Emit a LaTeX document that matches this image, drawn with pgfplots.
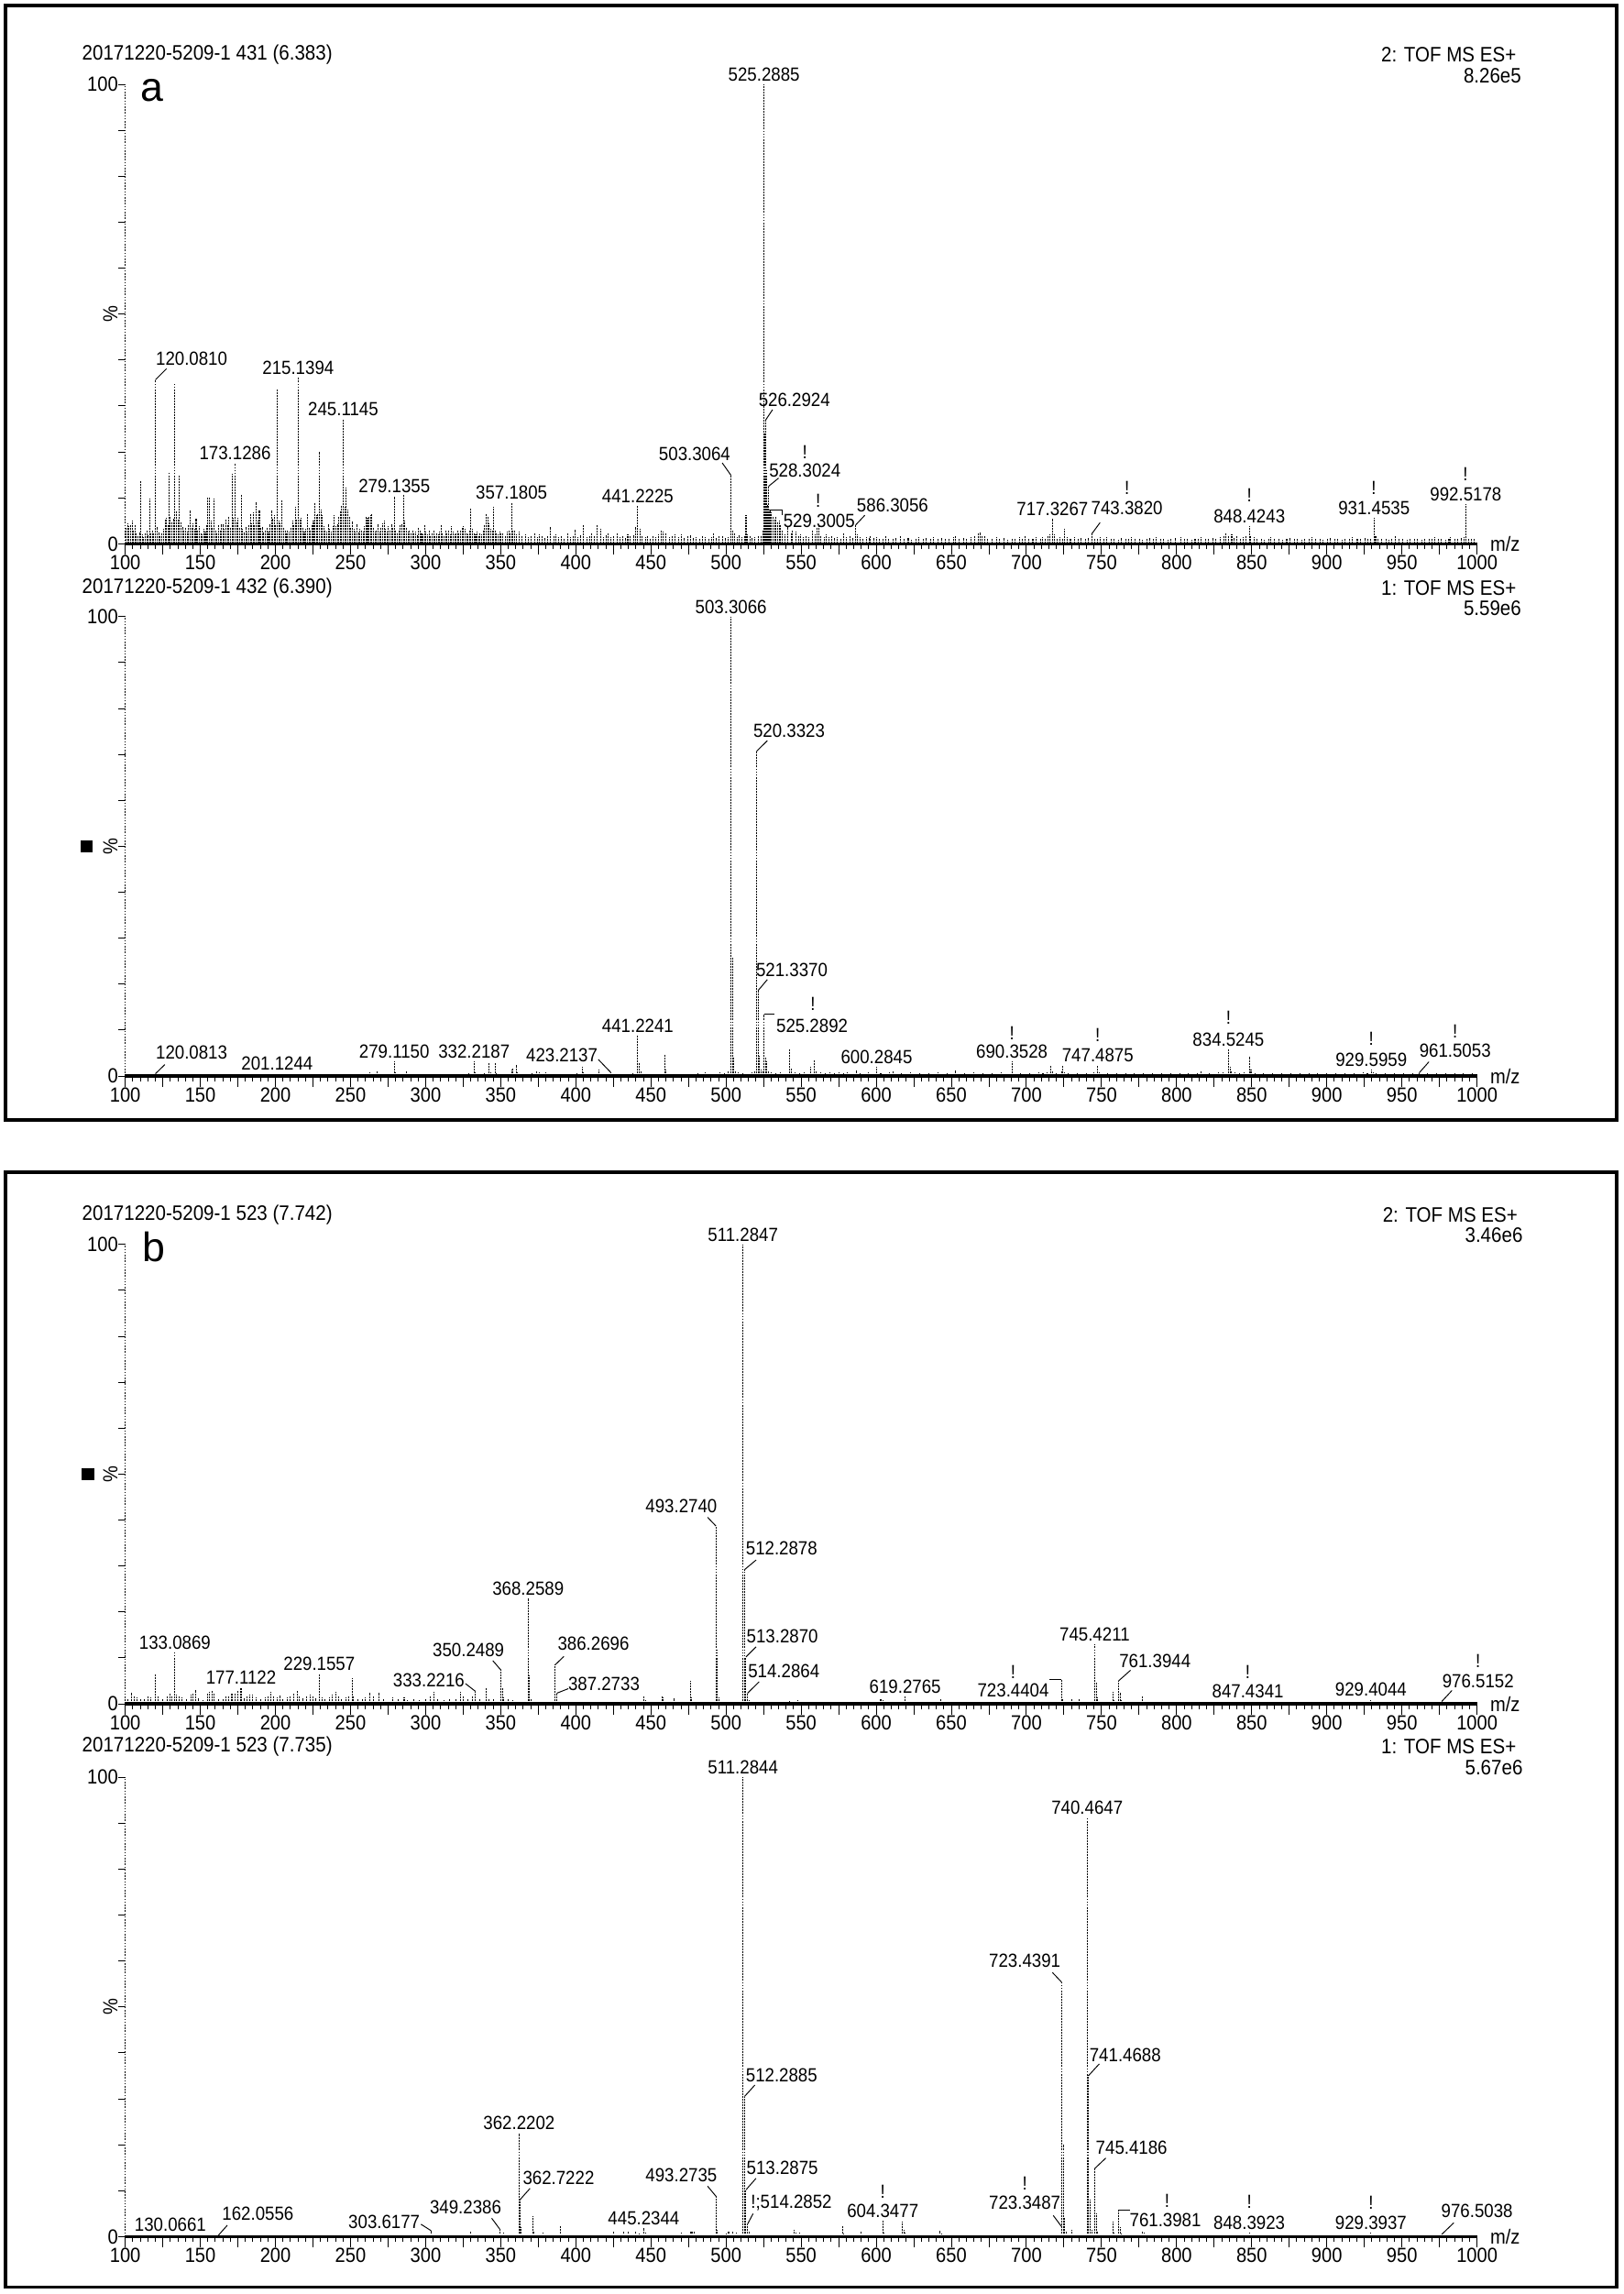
\documentclass[border=0pt]{standalone}
\usepackage{fontspec}
\setmainfont{Liberation Sans}[FakeStretch=0.9]
\newfontfamily\panelfont{Liberation Sans}
\usepackage{pgfplots}
\pgfplotsset{compat=1.18}

\tikzset{
  lbl/.style={font=\fontsize{13}{13}\selectfont, inner sep=2pt},
  ldr/.style={line width=0.6pt, black},
  stk/.style={black, line width=0.65pt, dash pattern=on 1.2pt off 0.7pt},
  big/.style={font=\fontsize{14.3}{14.3}\selectfont, inner sep=0pt},
}
\newcommand{\PK}[3]{\node[lbl,anchor=south] at (axis cs:#1,#2) {#3};}
\newcommand{\LD}[7]{\draw[ldr] (axis cs:#1,#2) -- (axis cs:#3,#4); \node[lbl] at (axis cs:#5,#6) {#7};}
\newcommand{\BANG}[2]{\node[lbl] at (axis cs:#1,#2) {!};}
\newcommand{\TXT}[3]{\node[lbl] at (axis cs:#1,#2) {#3};}

\pgfplotsset{
 ms/.style={
  scale only axis, width=924pt, height=314pt,
  xmin=100, xmax=1000, ymin=0, ymax=100,
  axis x line*=bottom, axis y line*=left,
  x axis line style={line width=2pt},
  y axis line style={line width=0.7pt, dash pattern=on 1pt off 1pt},
  tick align=outside,
  xtick={100,150,...,1000},
  xticklabels={100,150,200,250,300,350,400,450,500,550,600,650,700,750,800,850,900,950,1000},
  minor x tick num=9,
  extra x ticks={125,175,...,975},
  extra x tick labels={},
  xtick style={/pgfplots/major tick length=7.5pt, /pgfplots/minor tick length=3.8pt, line width=0.6pt, black},
  ytick={0,10,...,100},
  yticklabels={0,,,,,,,,,,100},
  ytick style={/pgfplots/major tick length=4.5pt, line width=0.6pt, black},
  ticklabel style={font=\fontsize{14}{14}\selectfont},
  yticklabel style={inner xsep=0.5pt},
  clip=false,
 }
}

\begin{document}
\begin{tikzpicture}
\useasboundingbox (0pt,0pt) rectangle (1110pt,1568pt);

% ---------------- Panel 1 ----------------
\begin{axis}[ms, at={(85.6pt,1196.3pt)}, anchor=south west]
\addplot[stk, ycomb] coordinates {
(100.8,3.5)(101.6,4.5)(102.5,3.8)(103.4,4.2)(104.7,5.0)(105.5,3.0)(106.4,4.0)(107.2,2.3)(108.5,1.8)(109.4,2.5)(110.4,13.8)(111.5,2.0)(112.4,1.5)(113.3,2.3)(114.5,2.8)(115.2,1.9)(116.1,9.8)(117.2,2.4)(118.3,3.0)(119.1,2.2)(120.08,35.7)(121.1,3.7)(122.3,2.5)(123.2,1.8)(124.4,2.4)(125.3,3.2)(126.5,5.3)(127.5,5.7)(128.3,4.2)(129.1,15.6)(130.1,6.0)(131.2,4.8)(132.0,5.5)(133.1,35.0)(134.1,7.0)(135.1,5.2)(136.1,15.1)(137.1,4.6)(138.2,3.7)(139.1,2.8)(140.2,3.4)(141.3,2.6)(142.2,4.0)(143.3,7.3)(144.2,3.5)(145.2,4.5)(146.2,3.2)(147.2,5.5)(148.1,2.8)(149.3,3.8)(150.3,2.4)(151.2,2.0)(152.4,3.3)(153.3,2.6)(154.2,4.2)(155.0,10.2)(156.0,10.2)(157.0,5.0)(158.1,3.6)(159.3,9.8)(160.3,3.0)(161.2,2.4)(162.1,4.0)(163.1,2.8)(164.1,4.3)(165.2,4.3)(166.1,3.3)(167.2,5.3)(168.2,4.0)(169.1,6.0)(170.1,3.5)(171.1,15.3)(172.1,5.6)(173.13,17.5)(174.2,4.6)(175.2,5.6)(176.2,3.4)(177.3,10.6)(178.3,3.2)(179.2,2.5)(180.3,3.7)(181.2,2.7)(182.2,4.0)(183.5,6.6)(184.3,4.5)(185.2,6.8)(186.2,4.0)(187.2,9.1)(188.3,5.0)(189.3,7.3)(190.2,3.4)(191.4,3.7)(192.3,2.5)(193.2,3.0)(194.2,3.4)(195.4,2.6)(196.2,4.3)(197.3,7.3)(198.2,5.5)(199.2,6.3)(200.2,4.2)(201.1,33.7)(202.2,5.0)(203.2,4.4)(204.2,9.6)(205.3,3.6)(206.4,3.0)(207.3,2.4)(208.2,2.9)(209.4,2.7)(210.3,3.5)(211.4,5.0)(212.3,4.0)(213.3,8.0)(214.2,5.4)(215.14,36.2)(216.2,5.2)(217.2,5.6)(218.3,3.5)(219.2,2.6)(220.3,3.2)(221.2,6.4)(222.3,3.6)(223.4,2.8)(224.3,4.0)(225.3,5.0)(226.1,9.0)(227.2,6.3)(228.1,6.5)(229.2,20.0)(230.2,7.5)(231.2,6.3)(232.3,3.8)(233.2,3.0)(234.3,2.6)(235.3,4.3)(236.2,3.2)(237.3,2.7)(238.2,3.8)(239.2,6.3)(240.3,3.9)(241.3,4.3)(242.2,6.0)(243.2,7.0)(244.2,8.3)(245.11,27.2)(246.2,8.0)(247.2,12.2)(248.2,7.5)(249.3,6.0)(250.2,3.6)(251.3,4.9)(252.3,3.3)(253.2,2.6)(254.3,4.3)(255.3,2.5)(256.4,3.2)(257.3,3.0)(258.3,2.6)(259.3,3.9)(260.3,6.0)(261.3,5.6)(262.3,5.8)(263.3,6.2)(264.3,6.4)(265.3,3.4)(266.2,2.7)(267.3,3.0)(268.3,4.3)(269.3,2.7)(270.3,3.5)(271.3,4.5)(272.3,5.0)(273.3,3.2)(274.3,2.6)(275.2,3.8)(276.3,2.8)(277.3,4.3)(278.2,3.4)(279.14,10.3)(280.2,3.0)(281.3,2.4)(282.3,3.0)(283.2,4.0)(284.3,4.3)(285.2,10.8)(286.2,5.0)(287.3,3.6)(288.2,2.6)(289.2,3.0)(290.3,2.2)(291.3,3.0)(292.2,2.2)(293.3,2.6)(294.3,1.9)(295.3,3.4)(296.3,3.0)(297.3,2.3)(298.3,2.0)(299.3,4.2)(300.3,2.6)(301.3,2.0)(302.3,2.8)(303.3,1.8)(304.3,2.2)(305.3,2.8)(306.3,1.8)(307.3,2.4)(308.3,2.0)(309.3,2.6)(310.3,4.2)(311.3,2.4)(312.3,1.8)(313.3,3.0)(314.3,2.2)(315.3,2.8)(316.3,2.0)(317.3,3.8)(318.3,2.6)(319.3,2.0)(320.3,2.4)(321.3,3.0)(322.3,2.2)(323.3,2.8)(324.3,3.4)(325.3,3.8)(326.3,3.2)(327.3,2.4)(328.3,2.0)(329.3,2.8)(330.2,7.8)(331.3,3.2)(332.3,2.4)(333.3,2.0)(334.3,2.6)(335.3,1.8)(336.3,2.4)(337.3,2.0)(338.3,3.0)(339.3,4.0)(340.3,6.6)(341.3,5.8)(342.3,4.4)(343.3,3.2)(344.3,2.8)(345.2,8.0)(346.3,3.0)(347.3,2.4)(348.3,2.0)(349.3,2.6)(350.3,2.2)
};
\addplot[stk, ycomb] coordinates {
(351.3,2.4)(353.2,1.8)(354.3,2.6)(355.3,3.0)(356.2,2.2)(357.18,9.0)(358.3,3.0)(359.3,2.8)(360.3,2.0)(362.3,2.7)(364.3,1.6)(366.3,2.0)(368.3,1.4)(370.3,1.8)(372.5,2.3)(374.3,1.5)(375.6,2.0)(377.3,1.6)(379.3,1.3)(381.3,1.8)(383.3,3.7)(385.3,1.6)(386.8,2.0)(388.3,1.4)(390.3,1.7)(392.3,1.2)(394.9,2.4)(396.3,1.5)(398.3,1.6)(399.4,3.1)(401.3,1.4)(403.3,1.9)(405.1,4.2)(407.3,1.5)(409.3,1.8)(410.2,2.4)(412.3,1.6)(414.2,4.0)(416.3,3.3)(418.3,1.5)(420.3,1.9)(421.3,2.3)(423.3,1.4)(425.3,1.7)(427.5,2.3)(429.3,1.4)(431.3,1.8)(433.3,1.3)(434.6,2.0)(436.3,1.6)(438.3,1.9)(439.6,3.7)(441.22,8.3)(442.7,3.3)(444.3,1.7)(446.3,1.4)(447.8,1.8)(449.3,1.2)(451.3,1.6)(453.3,1.4)(455.3,2.0)(457.0,3.0)(458.3,2.6)(460.0,2.3)(462.3,1.5)(464.3,1.8)(466.1,2.0)(468.3,1.4)(470.2,2.1)(472.3,1.3)(474.3,1.6)(476.3,1.9)(478.3,1.3)(480.3,1.5)(482.3,1.2)(484.4,1.8)(486.3,1.4)(488.3,1.2)(490.3,1.5)(491.5,2.3)(493.3,1.3)(495.3,1.6)(497.6,1.8)(499.3,1.3)(501.3,1.5)(503.31,14.9)(504.3,3.0)(505.7,2.3)(507.3,1.5)(508.8,1.9)(510.3,1.4)(512.3,1.8)(513.3,6.3)(514.3,2.0)(515.9,1.6)(517.3,1.3)(519.0,1.4)(521.3,1.6)(523.3,1.8)(524.3,3.0)(525.29,100)(525.8,24)(526.29,26.9)(526.8,16)(527.3,10)(527.8,8.5)(528.30,12.5)(528.8,7.5)(529.30,7.3)(530.3,6.8)(531.3,6.0)(532.3,5.3)(533.3,5.8)(534.3,4.6)(535.3,5.0)(536.3,4.0)(537.3,3.0)(539.3,2.0)(541.3,3.7)(543.3,2.2)(544.4,3.0)(546.3,2.6)(548.3,1.8)(549.5,2.0)(551.3,1.5)(553.3,1.8)(555.3,1.4)(557.6,3.0)(559.3,2.0)(560.6,3.5)(561.7,4.0)(563.3,1.6)(565.3,1.4)(566.8,2.0)(568.3,1.4)(570.3,1.7)(572.3,1.3)(574.3,1.5)(576.3,1.2)(578.0,2.3)(580.3,1.4)(582.3,1.6)(584.3,1.3)(586.31,4.1)(587.3,2.0)(589.3,1.4)(591.3,1.2)(593.3,1.5)(595.3,1.3)(596.2,1.8)(598.3,1.3)(600.3,1.5)
};
\addplot[stk, ycomb] coordinates {
(602.3,1.2)(604.5,1.0)(606.5,1.7)(608.3,1.2)(611.3,1.0)(613.3,1.3)(616.0,1.6)(618.3,1.1)(621.3,1.3)(623.3,0.9)(626.3,1.2)(628.3,1.4)(631.3,1.0)(633.3,1.3)(636.3,1.1)(638.3,1.5)(641.3,1.0)(643.3,1.3)(646.3,1.2)(648.3,1.0)(651.3,1.4)(652.9,1.7)(655.3,1.1)(658.3,1.3)(660.3,1.0)(663.3,1.5)(665.3,1.8)(667.8,2.2)(669.0,2.5)(670.3,1.6)(672.0,1.7)(674.3,1.2)(677.3,1.0)(680.0,1.4)(682.3,1.1)(685.3,1.3)(687.3,0.9)(690.3,1.2)(692.3,1.0)(695.3,1.4)(697.3,1.1)(699.0,1.6)(701.3,1.0)(704.3,1.2)(706.3,1.5)(709.3,1.1)(710.5,1.4)(712.3,1.0)(714.3,1.6)(715.4,2.0)(717.33,5.5)(718.4,2.0)(720.3,1.2)(722.3,1.4)(724.3,1.2)(725.6,3.3)(727.3,1.4)(729.3,1.0)(731.9,1.4)(734.3,1.1)(736.3,1.3)(739.3,1.0)(741.3,1.3)(743.38,2.1)(745.3,1.2)(747.3,1.0)(749.3,1.4)(751.3,1.1)(753.6,1.4)(756.3,1.0)(758.3,1.2)(761.3,0.9)(763.3,1.3)(766.3,1.0)(768.3,1.2)(770.0,1.4)(772.3,1.0)(775.3,1.2)(777.3,0.9)(780.3,1.1)(782.3,1.3)(784.3,1.0)(786.3,1.4)(789.3,1.0)(791.3,1.2)(794.3,0.9)(796.3,1.1)(799.3,1.3)(802.7,1.4)(805.3,1.0)(807.3,1.2)(810.3,0.9)(812.3,1.1)(814.3,1.0)(816.3,1.4)(819.3,1.0)(821.3,1.2)(824.3,1.3)(826.3,1.0)(829.3,1.5)(831.3,1.8)(832.6,2.3)(834.3,1.6)(836.7,2.0)(838.3,1.3)(840.3,1.6)(842.3,1.1)(844.3,1.4)(846.3,1.6)(848.42,3.9)(849.4,1.8)(851.7,1.5)(853.3,1.0)(856.3,1.2)(858.3,0.9)(861.3,1.1)(862.6,1.4)(865.3,1.0)(868.3,1.2)(870.3,0.9)(873.3,1.1)(875.3,1.3)(878.3,1.0)(880.3,1.2)(883.3,0.9)(885.3,1.1)(888.3,1.0)(889.8,1.4)(892.3,1.0)(895.3,1.2)(897.3,0.9)(900.3,1.1)(902.3,1.3)(905.3,1.0)(907.3,1.2)(910.3,0.9)(912.3,1.1)(915.3,1.0)(917.1,1.4)(920.3,1.0)(922.3,1.2)(925.3,1.3)(927.3,1.0)(929.3,1.2)(931.45,5.6)(932.5,1.8)(934.3,1.2)(936.3,1.0)(939.3,1.2)(941.3,0.9)(943.3,1.1)(945.7,1.6)(948.3,1.0)(950.3,1.2)(953.3,0.9)(955.3,1.1)(958.3,1.0)(960.3,1.2)(963.3,0.9)(965.3,1.1)(968.3,1.0)(970.3,1.2)(971.6,1.5)(974.3,1.0)(976.3,1.2)(979.3,0.9)(981.3,1.1)(982.5,1.5)(985.3,1.0)(987.3,1.2)(989.3,1.3)(991.3,1.5)(992.52,8.6)(994.3,1.2)(996.3,1.0)(998.3,1.1)
};
\PK{525.29}{100}{525.2885}
\PK{215.14}{36.2}{215.1394}
\PK{173.13}{17.5}{173.1286}
\PK{245.11}{27.2}{245.1145}
\PK{279.14}{10.3}{279.1355}
\PK{357.18}{9.0}{357.1805}
\PK{441.22}{8.3}{441.2225}
\PK{717.33}{5.5}{717.3267}
\PK{848.42}{3.9}{848.4243}
\PK{931.45}{5.6}{931.4535}
\PK{992.52}{8.6}{992.5178}
\LD{120.08}{35.7}{127.5}{38.1}{144.2}{40.2}{120.0810}
\LD{503.31}{14.9}{497.5}{17.6}{479.1}{19.5}{503.3064}
\LD{526.29}{26.9}{531}{29.2}{545.5}{31.3}{526.2924}
\LD{528.30}{12.5}{535}{14.3}{552.5}{16.0}{528.3024}
\BANG{552.5}{19.9}
\draw[ldr] (axis cs:529.3,7.3) -- (axis cs:537.3,7.3) -- (axis cs:537.3,6.3);
\TXT{562}{4.9}{529.3005}
\BANG{561.3}{9.3}
\LD{586.31}{4.1}{592.4}{6.2}{610.9}{8.4}{586.3056}
\LD{743.38}{2.1}{749}{4.6}{766.9}{7.7}{743.3820}
\BANG{766.9}{12.2}
\BANG{848.42}{10.5}
\BANG{931.3}{12.2}
\BANG{992.2}{15.1}
\node[rotate=90, font=\fontsize{14}{14}\selectfont] at (axis description cs:-0.011,0.5) {\%};
\node[anchor=west, xshift=5.5pt, font=\fontsize{14}{14}\selectfont] at (axis description cs:1,0) {m/z};
\end{axis}

% ---------------- Panel 2 ----------------
\begin{axis}[ms, at={(85.6pt,832.5pt)}, anchor=south west]
\addplot[stk, ycomb] coordinates {
(102,0.3)(106,0.4)(110,0.3)(114,0.4)(118,0.3)(120.08,0.5)(124,0.3)(128,0.4)(132,0.3)(136,0.4)(140,0.3)(144,0.3)(148,0.4)(152,0.3)(156,0.3)(160,0.4)(164,0.3)(168,0.3)(172,0.4)(176,0.3)(180,0.3)(184,0.4)(188,0.3)(192,0.3)(196,0.4)(201.12,0.6)(204,0.3)(208,0.3)(212,0.4)(216,0.3)(220,0.3)(224,0.4)(228,0.3)(232,0.3)(236,0.4)(240,0.3)(244,0.4)(248,0.3)(252,0.4)(256,0.5)(260,0.4)(263,0.8)(266,0.6)(268,1.0)(272,0.5)(275,0.6)(279.12,3.2)(280.1,0.8)(283,0.5)(287.1,1.2)(290,0.5)(294,0.4)(298,0.5)(302,0.4)(306,0.5)(310,0.4)(314,0.5)(318,0.6)(322,0.5)(326,0.6)(329,0.7)(332.22,3.2)(333.2,0.8)(336,0.5)(339,0.7)(342.3,2.8)(343.3,0.8)(346.3,3.0)(347.3,0.7)(350,0.5)(354,0.6)(357.2,1.5)(358.2,1.8)(360.3,2.5)(361.3,0.8)(364,0.6)(368,0.5)(371,0.7)(374,1.0)(376,0.8)(378,0.6)(380,0.8)(383,0.6)(386,0.5)(389,0.6)(392,0.5)(395,0.6)(398,0.5)(401,0.7)(404.2,2.0)(405.2,0.8)(408,0.6)(411,0.6)(415.2,1.5)(416.2,0.6)(419,0.5)(423.21,0.8)(426,0.6)(429,0.5)(432,0.6)(435,0.5)(438,0.7)(441.22,8.8)(442.2,3.0)(443.2,1.2)(446,0.6)(449,0.5)(452,0.6)(455,0.5)(459.2,4.7)(460.2,1.5)(463,0.6)(466,0.5)(469,0.6)(472,0.5)(475,0.6)(478,0.5)(481,0.7)(484,0.6)(486,0.8)(489,0.6)(492,0.5)(494,0.6)(496,0.8)(499,0.7)(501.3,1.0)(503.31,100)(504.31,25.9)(505.31,4.0)(506.3,1.0)(508,0.8)(511,0.7)(514,0.6)(517,0.8)(519.3,1.2)(520.33,70.7)(521.34,18.6)(522.34,4.5)(523.3,1.5)(524.3,1.0)(525.29,13.4)(526.29,4.0)(527.3,3.2)(528.3,1.2)(530,0.8)(533,0.7)(536,0.8)(539,0.6)(542.3,5.9)(543.3,1.8)(546,0.8)(549,0.7)(552,0.8)(556.3,2.0)(559,3.4)(560,1.2)(563,0.8)(566,0.7)(569,0.9)(572,0.7)(575,0.8)(578,0.7)(581,0.8)(584,0.6)(586.8,1.3)(589,0.7)(592,0.6)(595,0.8)(598,0.6)(600.28,2.0)(603,0.7)(606,0.6)(609,0.8)(611,1.0)(614,0.6)(617,0.7)(620,0.6)(623,0.8)(626,0.6)(629,0.7)(632,0.6)(635,0.7)(638,0.6)(641,0.8)(644,0.6)(647,0.7)(650,0.6)(653,1.3)(656,0.6)(659,0.7)(662,0.6)(665,0.8)(668,0.6)(671,0.7)(674,0.6)(677,0.7)(680,0.6)(683,0.8)(686,0.6)(690.35,3.2)(693,0.6)(696,0.7)(699,0.6)(702,0.7)(705,0.6)(708,0.8)(711,0.7)(714,0.8)(716.3,2.2)(717.3,1.0)(720,0.7)(723.3,1.2)(724.3,2.2)(725.3,0.9)(728,0.7)(731,0.6)(734,0.7)(737,0.6)(740,0.7)(743,0.6)(745,0.8)(747.49,2.3)(748.5,0.8)(751,0.6)(754,0.7)(757,0.6)(760,0.7)(763,0.6)(766,0.7)(769,0.6)(772,0.7)(775,0.6)(778,0.7)(781,0.6)(784,0.7)(787,0.6)(790,0.7)(793,0.6)(796,0.7)(799,0.6)(802,0.7)(805,0.6)(808,0.7)(811,0.6)(814,0.7)(816,1.0)(819,0.6)(822,0.7)(825,0.6)(828,0.8)(831,0.9)(834.52,5.8)(835.5,2.0)(836.5,1.0)(839,0.8)(842,0.7)(845,0.8)(848.5,4.3)(849.5,1.4)(852,0.7)(855,0.6)(858,0.7)(861,0.6)(864,0.7)(867,0.6)(870,0.7)(873,0.6)(876,0.7)(879,0.6)(882,0.7)(885,0.6)(888,0.7)(891,0.6)(894,0.7)(897,0.6)(900,0.7)(903,0.6)(906,0.7)(909,0.6)(912,0.7)(915,0.6)(918,0.7)(921,0.6)(924,0.8)(927,0.7)(929.6,1.4)(931,0.9)(933,0.7)(936,0.6)(939,0.7)(942,0.6)(945,0.7)(948,0.6)(951,0.7)(954,0.6)(957,0.7)(961.51,0.7)(964,0.6)(967,0.7)(970,0.6)(973,0.7)(976,0.6)(979,0.7)(982,0.6)(985,0.7)(988,0.6)(991,0.7)(994,0.6)(997,0.7)
};
\PK{503.31}{100}{503.3066}
\PK{441.22}{8.8}{441.2241}
\PK{332.22}{3.2}{332.2187}
\PK{279.12}{3.2}{279.1150}
\PK{201.12}{0.6}{201.1244}
\PK{600.28}{2.0}{600.2845}
\PK{690.35}{3.2}{690.3528} \BANG{690.35}{9.4}
\PK{747.49}{2.3}{747.4875} \BANG{747.49}{8.9}
\PK{834.52}{5.8}{834.5245} \BANG{834.52}{12.7}
\PK{929.6}{1.4}{929.5959} \BANG{929.6}{8.2}
\LD{520.33}{70.7}{527.5}{73}{542}{75.2}{520.3323}
\LD{521.34}{18.6}{527.5}{21}{543.8}{23}{521.3370}
\draw[ldr] (axis cs:525.29,13.4) -- (axis cs:532.5,13.4);
\TXT{557.3}{11}{525.2892} \BANG{557.8}{15.8}
\LD{423.21}{0.8}{415}{3.6}{390.7}{4.5}{423.2137}
\LD{120.08}{0.5}{126.4}{2.5}{144.2}{5.2}{120.0813}
\LD{961.51}{0.7}{968}{3.1}{985.4}{5.6}{961.5053} \BANG{985.4}{9.8}
\node[rotate=90, font=\fontsize{14}{14}\selectfont] at (axis description cs:-0.011,0.5) {\%};
\fill (axis description cs:-0.0285,0.5) ++(-4.15pt,-4.15pt) rectangle ++(8.3pt,8.3pt);
\node[anchor=west, xshift=5.5pt, font=\fontsize{14}{14}\selectfont] at (axis description cs:1,0) {m/z};
\end{axis}

% ---------------- Panel 3 ----------------
\begin{axis}[ms, at={(85.6pt,403.4pt)}, anchor=south west]
\addplot[stk, ycomb] coordinates {
(102,1.2)(104,2.5)(106,1.8)(108,1.5)(110,1.2)(113,1.0)(115,1.6)(117,1.4)(120.1,6.3)(122,1.8)(125,1.0)(128,1.6)(130,2.2)(131,1.6)(133.09,11.2)(134,2.0)(136,1.8)(138,1.5)(141,1.2)(144,2.0)(145,2.3)(146.7,3.1)(149,1.3)(152,0.8)(155,2.2)(156,2.6)(157.6,2.9)(159,2.2)(162,1.2)(165,1.0)(167,1.6)(169,1.8)(171,2.4)(173,2.2)(175,2.8)(177.11,3.6)(179,1.3)(181,1.8)(183,2.0)(185,2.0)(187,1.5)(190,1.0)(193,1.4)(195,1.6)(197,2.6)(199,1.7)(201,1.5)(203,1.9)(205,1.2)(208,1.5)(210,1.8)(212,2.2)(214.8,3.0)(216,1.8)(218,1.3)(221,1.6)(223,2.0)(225,1.6)(227,1.3)(229.16,6.6)(231,1.4)(233,1.1)(236,1.5)(238,2.0)(240,2.6)(242,1.6)(244,1.2)(247,1.4)(249,1.8)(251.1,5.5)(252,1.8)(255,1.2)(258,1.0)(260,1.5)(263,2.5)(265,1.6)(269,2.5)(272,1.0)(278,1.4)(282,1.0)(285.7,1.5)(288,0.8)(292,1.0)(296,0.8)(300,1.0)(303,1.6)(305.3,2.6)(308,1.2)(312,0.8)(316,1.0)(320,1.2)(323.3,2.7)(325,1.6)(328,1.0)(331,1.6)(333.22,2.7)(336,1.0)(340.2,3.5)(342,1.2)(345,1.0)(350.25,7.3)(351.2,3.5)(352,1.5)(355,1.0)(357.9,0.8)(362,0.5)(368.26,23.0)(369.26,6.1)(370,1.0)(376,0.5)(386.27,8.5)(387.27,2.3)(393,0.5)(405,0.5)(418,0.5)(430,0.6)(434,0.6)(445,1.7)(446.4,0.8)(457.3,1.8)(458,1.5)(465.5,1.3)(476.2,5.0)(477.2,1.5)(493.27,38.7)(494.28,12.1)(495.3,1.5)(505,0.6)(508,0.5)(511.28,100)(512.29,29.2)(513.29,10.2)(514.29,2.3)(515.3,0.8)(523,0.5)(530,0.6)(542,0.7)(548,0.8)
(552,0.4)(556,0.3)(560,0.5)(564,0.3)(568,0.4)(572,0.3)(576,0.4)(580,0.3)(584,0.4)(588,0.6)(592,0.3)(596,0.4)(600,0.3)(603,1.0)(604.3,0.8)(608,0.4)(612,0.3)(616,0.4)(619.28,1.6)(620.3,0.5)(624,0.3)(628,0.4)(632,0.3)(636,0.4)(640,0.3)(643,1.0)(644,0.5)(648,0.3)(652,0.4)(656,0.3)(660,0.4)(664,0.3)(668,0.3)(672,0.4)(676,0.3)(680,0.3)(684,0.4)(688,0.3)(692,0.3)(696,0.4)(700,0.3)(704,0.4)(708,0.3)(712,0.3)(716,0.4)(720,0.3)(723.44,5.2)(724.4,1.2)(728,0.4)(730,1.0)(735,1.0)(738,0.4)(742,0.4)(745.42,12.9)(746.42,4.8)(747.4,1.5)(750,0.4)(754,0.4)(757.4,2.7)(758.4,0.8)(761.39,5.0)(762.4,2.5)(763.4,0.8)(766,0.4)(770,0.3)(774,0.4)(777.4,1.7)(778.4,0.6)(782,0.3)(786,0.6)(790,0.3)(796,0.3)(802,0.3)(808,0.3)(814,0.3)(820,0.3)(826,0.3)(832,0.3)(838,0.3)(844,0.3)(847.43,0.5)(852,0.3)(858,0.3)(864,0.3)(870,0.3)(876,0.3)(882,0.3)(888,0.3)(894,0.3)(900,0.3)(906,0.3)(912,0.3)(918,0.3)(924,0.3)(929.40,0.9)(934,0.3)(940,0.3)(946,0.3)(952,0.3)(958,0.3)(964,0.3)(970,0.3)(976.52,0.5)(982,0.3)(988,0.3)(994,0.3)
};
\PK{511.28}{100}{511.2847}
\PK{368.26}{23.0}{368.2589}
\PK{133.09}{11.2}{133.0869}
\PK{177.11}{3.6}{177.1122}
\PK{229.16}{6.6}{229.1557}
\PK{745.42}{12.9}{745.4211}
\PK{619.28}{1.6}{619.2765}
\PK{929.40}{0.9}{929.4044}
\PK{847.43}{0.5}{847.4341} \BANG{847.43}{6.9}
\LD{493.27}{38.7}{487.7}{40.6}{470.2}{43}{493.2740}
\LD{512.29}{29.2}{520}{31.3}{537}{33.9}{512.2878}
\LD{513.29}{10.2}{520}{12.4}{537.5}{14.7}{513.2870}
\LD{514.29}{2.3}{522}{4.8}{538.5}{7.1}{514.2864}
\LD{350.25}{7.3}{344.7}{9.4}{328.5}{11.8}{350.2489}
\LD{386.27}{8.5}{392}{10.3}{411.7}{13.1}{386.2696}
\LD{387.27}{2.3}{395}{3.3}{418.7}{4.4}{387.2733}
\LD{333.22}{2.7}{326.5}{4.4}{302.1}{5.2}{333.2216}
\LD{761.39}{5.0}{769.3}{7.3}{785.6}{9.4}{761.3944}
\draw[ldr] (axis cs:715.5,5.2) -- (axis cs:723.44,5.2);
\TXT{691.2}{3}{723.4404} \BANG{691.2}{6.9}
\LD{976.52}{0.5}{983.3}{2.9}{1000.7}{5}{976.5152} \BANG{1000.7}{9.4}
\node[rotate=90, font=\fontsize{14}{14}\selectfont] at (axis description cs:-0.011,0.5) {\%};
\fill (axis description cs:-0.0275,0.5) ++(-4.15pt,-4.15pt) rectangle ++(8.3pt,8.3pt);
\node[anchor=west, xshift=5.5pt, font=\fontsize{14}{14}\selectfont] at (axis description cs:1,0) {m/z};
\end{axis}

% ---------------- Panel 4 ----------------
\begin{axis}[ms, at={(85.6pt,39.2pt)}, anchor=south west]
\addplot[stk, ycomb] coordinates {
(102,0.3)(106,0.4)(110,0.3)(114,0.3)(118,0.4)(122,0.3)(126,0.3)(130.07,0.4)(134,0.3)(138,0.4)(142,0.3)(146,0.3)(150,0.4)(154,0.3)(158,0.3)(162.06,0.3)(166,0.3)(170,0.4)(174,0.3)(178,0.3)(182,0.4)(186,0.3)(190,0.3)(194,0.4)(198,0.3)(202,0.3)(206,0.4)(210,0.3)(214,0.3)(218,0.4)(222,0.3)(226,0.3)(230,0.4)(234,0.3)(238,0.3)(242,0.4)(246,0.3)(250,0.3)(254,0.4)(258,0.3)(262,0.3)(266,0.4)(270,0.3)(274,0.3)(278,0.4)(282,0.3)(286,0.4)(290,0.3)(294,0.4)(298,0.3)(303.62,1.3)(306,0.4)(310,0.3)(314,0.4)(318,0.3)(322,0.4)(326,0.5)(330.2,1.1)(334,0.4)(338,0.5)(342,0.4)(346,0.5)(349.24,1.7)(350.2,0.6)(352,0.8)(356,0.5)(359,0.6)(362.22,22.5)(362.72,8.0)(363.22,2.0)(364,0.6)(367,0.5)(371.3,4.4)(372.3,1.0)(375,0.5)(378,0.8)(381,0.5)(384,0.6)(386,0.5)(389.9,2.2)(391,0.6)(394,0.5)(398,0.4)(402,0.5)(406,0.4)(410,0.5)(414,0.4)(418,0.5)(422,0.6)(425,1.0)(428,0.6)(431.7,1.2)(435,1.0)(438,0.6)(440,1.2)(442,0.7)(445.23,1.9)(446.2,0.8)(449,0.5)(452,0.6)(456,0.5)(460,0.6)(464,0.5)(467,0.6)(470,0.8)(473,0.5)(476.3,1.1)(477.3,1.0)(479,1.0)(482,0.5)(486,0.6)(490,0.5)(493.27,8.8)(494.28,1.5)(497,0.6)(500,0.7)(501.7,1.1)(504.7,1.1)(507,0.8)(509,0.6)(511.28,100)(512.29,30.5)(513.29,10.2)(514.29,2.7)(515.3,1.0)(518,0.6)(522,0.5)(526,0.6)(530,0.5)(533,0.6)(537,0.5)(541,0.6)(545.3,1.5)(546.3,0.8)(549,0.8)(553,0.5)(557,0.6)(561,0.5)(565,0.6)(569,0.5)(573,0.6)(577.5,2.2)(578.5,0.7)(582,0.5)(586,0.6)(590,1.1)(594,0.5)(598,0.6)(601,0.5)(604.35,3.4)(605.3,0.8)(608,0.5)(612,0.6)(614,0.5)(617.4,3.3)(618.4,1.5)(619.4,0.8)(622,0.5)(626,0.6)(630,0.5)(634,0.6)(638,0.5)(642.4,1.3)(643.4,0.7)(646,0.5)(650,0.6)(654,0.5)(658,0.6)(662,0.5)(666,0.6)(670,0.5)(674,0.6)(678,0.5)(682,0.6)(686,0.5)(690,0.6)(694,0.5)(698,0.6)(702,0.5)(706,0.6)(710,0.5)(714,0.6)(718,0.5)(721,0.6)(723.44,55.4)(724.44,20.0)(725.44,4.0)(726.4,1.0)(730.4,1.5)(733,0.6)(736,0.5)(738,0.6)(740.46,91.2)(741.47,35.1)(742.47,8.0)(743.5,1.5)(745.42,14.8)(746.42,5.0)(747.4,1.2)(750,0.6)(754,0.5)(757.4,3.2)(758.4,0.8)(761.4,5.8)(762.4,2.0)(763.4,0.7)(766,0.5)(770,0.6)(774,0.5)(777.4,1.1)(778.4,0.8)(782,0.5)(786,0.6)(790,0.5)(794,0.5)(798,0.4)(802,0.5)(806,0.4)(810,0.5)(814,0.4)(818,0.5)(822,0.4)(826,0.5)(830,0.4)(834,0.5)(838,0.4)(842,0.5)(846,0.4)(848.39,0.8)(852,0.4)(856,0.5)(860,0.4)(864,0.4)(868,0.5)(872,0.4)(876,0.4)(880,0.5)(884,0.4)(888,0.4)(892,0.5)(896,0.4)(900,0.4)(904,0.5)(908,0.4)(912,0.4)(916,0.5)(920,0.4)(924,0.4)(929.39,0.8)(932,0.4)(936,0.4)(940,0.5)(944,0.4)(948,0.4)(952,0.5)(956,0.4)(960,0.4)(964,0.5)(968,0.4)(972,0.4)(976.50,0.5)(980,0.4)(984,0.4)(988,0.5)(992,0.4)(996,0.4)
};
\PK{511.28}{100}{511.2844}
\PK{362.22}{22.5}{362.2202}
\PK{130.07}{0.4}{130.0661}
\PK{445.23}{1.9}{445.2344}
\PK{740.46}{91.2}{740.4647}
\PK{604.35}{3.4}{604.3477} \BANG{604.35}{9.8}
\PK{848.39}{0.8}{848.3923} \BANG{848.39}{7.5}
\PK{929.39}{0.8}{929.3937} \BANG{929.39}{7.3}
\LD{512.29}{30.5}{519.2}{33}{537}{35.1}{512.2885}
\LD{513.29}{10.2}{520}{12.7}{537.5}{15}{513.2875}
\LD{514.29}{2.7}{518}{5.0}{543.5}{7.3}{!;514.2852}
\LD{362.72}{8.0}{369.5}{10.5}{388.5}{12.7}{362.7222}
\LD{349.24}{1.7}{344}{4}{326.6}{6.3}{349.2386}
\LD{303.62}{1.3}{296.9}{2.7}{272.4}{3.3}{303.6177}
\LD{162.06}{0.3}{168}{2.5}{188.3}{5}{162.0556}
\LD{493.27}{8.8}{487.7}{11}{470.2}{13.3}{493.2735}
\LD{723.44}{55.4}{717.3}{57.5}{698.9}{60}{723.4391}
\LD{741.47}{35.1}{748.5}{37.6}{765.8}{39.5}{741.4688}
\LD{745.42}{14.8}{752.8}{17.1}{770}{19.3}{745.4186}
\LD{723.35}{2.2}{717.9}{4.6}{698.9}{7.3}{723.3487} \BANG{698.9}{11.5}
\draw[ldr] (axis cs:761.4,5.8) -- (axis cs:769,5.8);
\TXT{792.5}{3.6}{761.3981} \BANG{793.6}{7.7}
\LD{976.50}{0.5}{984.5}{3}{1000}{5.5}{976.5038}
\node[rotate=90, font=\fontsize{14}{14}\selectfont] at (axis description cs:-0.011,0.5) {\%};
\node[anchor=west, xshift=5.5pt, font=\fontsize{14}{14}\selectfont] at (axis description cs:1,0) {m/z};
\end{axis}

% ---------------- frames and header texts ----------------
\draw[line width=2.5pt] (4pt,802.5pt) rectangle (1105pt,1564pt);
\draw[line width=2.5pt] (4pt,4.7pt) rectangle (1105pt,766.8pt);

\node[big, anchor=west] at (56pt,1530.8pt) {20171220-5209-1 431 (6.383)};
\node[big, anchor=east] at (1036.5pt,1530.8pt) {2: TOF MS ES+};
\node[big, anchor=east] at (1040pt,1516pt) {8.26e5};
\node[anchor=base west, inner sep=0pt, font=\panelfont\fontsize{28}{28}\selectfont] at (96pt,1499pt) {a};

\node[big, anchor=west] at (56pt,1166.2pt) {20171220-5209-1 432 (6.390)};
\node[big, anchor=east] at (1036.5pt,1166.2pt) {1: TOF MS ES+};
\node[big, anchor=east] at (1040pt,1152.2pt) {5.59e6};

\node[big, anchor=west] at (56pt,737.4pt) {20171220-5209-1 523 (7.742)};
\node[big, anchor=east] at (1037.5pt,737.4pt) {2: TOF MS ES+};
\node[big, anchor=east] at (1041pt,723.5pt) {3.46e6};
\node[anchor=base west, inner sep=0pt, font=\panelfont\fontsize{28}{28}\selectfont] at (97pt,705.7pt) {b};

\node[big, anchor=west] at (56pt,374pt) {20171220-5209-1 523 (7.735)};
\node[big, anchor=east] at (1036.5pt,374.5pt) {1: TOF MS ES+};
\node[big, anchor=east] at (1041pt,359.5pt) {5.67e6};
\end{tikzpicture}
\end{document}
